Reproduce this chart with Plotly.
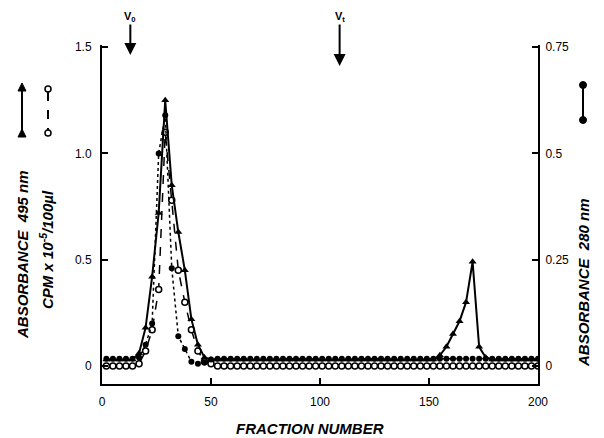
import plotly.graph_objects as go

# ---- data ----
fractions = list(range(2, 201, 3))  # fraction numbers, every 3rd fraction

a495 = [0.03, 0.03, 0.03, 0.03, 0.03, 0.06, 0.18, 0.42, 0.72, 1.25,
        0.85, 0.63, 0.45, 0.22, 0.10, 0.04, 0.03, 0.03, 0.03, 0.03,
        0.03, 0.03, 0.03, 0.03, 0.03, 0.03, 0.03, 0.03, 0.03, 0.03,
        0.03, 0.03, 0.03, 0.03, 0.03, 0.03, 0.03, 0.03, 0.03, 0.03,
        0.03, 0.03, 0.03, 0.03, 0.03, 0.03, 0.03, 0.03, 0.03, 0.03,
        0.03, 0.05, 0.09, 0.15, 0.21, 0.30, 0.49, 0.09, 0.04, 0.03,
        0.03, 0.03, 0.03, 0.03, 0.03, 0.03, 0.03]

cpm = [0.0, 0.0, 0.0, 0.0, 0.0, 0.01, 0.07, 0.17, 0.36, 1.10,
       0.78, 0.45, 0.30, 0.17, 0.07, 0.02, 0.01, 0.0, 0.0, 0.0,
       0.0, 0.0, 0.0, 0.0, 0.0, 0.0, 0.0, 0.0, 0.0, 0.0,
       0.0, 0.0, 0.0, 0.0, 0.0, 0.0, 0.0, 0.0, 0.0, 0.0,
       0.0, 0.0, 0.0, 0.0, 0.0, 0.0, 0.0, 0.0, 0.0, 0.0,
       0.0, 0.0, 0.0, 0.0, 0.0, 0.0, 0.0, 0.0, 0.0, 0.0,
       0.0, 0.0, 0.0, 0.0, 0.0, 0.0, 0.0]

a280 = [0.017, 0.017, 0.017, 0.017, 0.017, 0.02, 0.05, 0.10, 0.50, 0.59,
        0.23, 0.07, 0.04, 0.01, 0.005, 0.008, 0.015, 0.017, 0.017, 0.017,
        0.017, 0.017, 0.017, 0.017, 0.017, 0.017, 0.017, 0.017, 0.017, 0.017,
        0.017, 0.017, 0.017, 0.017, 0.017, 0.017, 0.017, 0.017, 0.017, 0.017,
        0.017, 0.017, 0.017, 0.017, 0.017, 0.017, 0.017, 0.017, 0.017, 0.017,
        0.017, 0.017, 0.017, 0.017, 0.017, 0.017, 0.017, 0.017, 0.017, 0.017,
        0.017, 0.017, 0.017, 0.017, 0.017, 0.017, 0.017]

x_ticks = [0, 50, 100, 150, 200]
left_ticks = [0, 0.5, 1.0, 1.5]
left_labels = ["0", "0.5", "1.0", "1.5"]
right_ticks = [0, 0.25, 0.5, 0.75]
right_labels = ["0", "0.25", "0.5", "0.75"]
marker_labels = ["V<sub>0</sub>", "V<sub>t</sub>"]
marker_fractions = [13, 109]

# ---- layout geometry (screen pixels; page body adds an 8px offset) ----
OFF = 8
SCR_L, SCR_R, SCR_T, SCR_B = 102, 538, 45, 384
W, H = 604 - OFF, 438 - OFF
L, T = SCR_L - OFF, SCR_T - OFF
R, B = W - (SCR_R - OFF), H - (SCR_B - OFF)
PW, PH = SCR_R - SCR_L, SCR_B - SCR_T


def px(xs):
    return (xs - SCR_L) / PW


def py(ys):
    return (SCR_B - ys) / PH


FONT = "Liberation Sans, Arial, sans-serif"

fig = go.Figure()
fig.add_trace(go.Scatter(x=fractions, y=cpm, mode="lines+markers", yaxis="y",
                         line=dict(color="black", width=1.5, dash="dash"),
                         marker=dict(symbol="circle", size=6, color="white",
                                     line=dict(color="black", width=1.5)),
                         name="CPM"))
fig.add_trace(go.Scatter(x=fractions, y=a495, mode="lines+markers", yaxis="y",
                         line=dict(color="black", width=2),
                         marker=dict(symbol="triangle-up", size=7, color="black"),
                         name="A495"))
fig.add_trace(go.Scatter(x=fractions, y=a280, mode="lines+markers", yaxis="y2",
                         line=dict(color="black", width=1.5, dash="dot"),
                         marker=dict(symbol="circle", size=6, color="black"),
                         name="A280"))

ax_common = dict(showgrid=False, zeroline=False, showline=True, linecolor="black",
                 linewidth=2, ticks="inside", ticklen=6, tickwidth=2, tickcolor="black",
                 tickfont=dict(family=FONT, size=12, color="black"))

fig.update_layout(
    width=W, height=H, margin=dict(l=L, r=R, t=T, b=B, autoexpand=False),
    paper_bgcolor="white", plot_bgcolor="white", showlegend=False,
    xaxis=dict(range=[0, 200], tickvals=x_ticks, ticklabelstandoff=6, **ax_common),
    yaxis=dict(range=[-0.085, 1.51], tickvals=left_ticks, ticktext=left_labels,
               ticklabelstandoff=6, **ax_common),
    yaxis2=dict(range=[-0.0425, 0.755], tickvals=right_ticks, ticktext=right_labels,
                overlaying="y", side="right", ticklabelstandoff=3, **ax_common),
)

ann = []
title_font = dict(family=FONT, size=15, color="black")


def label(text, xs, ys, angle=0):
    return dict(text=text, x=px(xs), y=py(ys), xref="paper", yref="paper",
                xanchor="center", yanchor="middle", showarrow=False,
                textangle=angle, font=title_font)


ann.append(label("<b><i>FRACTION NUMBER</i></b>", 310, 428))
ann.append(label("<b><i>ABSORBANCE  495 nm</i></b>", 22, 255, -90))
ann.append(label("<b><i>CPM x 10<sup>-5</sup>/100µl</i></b>", 46, 250, -90))
ann.append(label("<b><i>ABSORBANCE  280 nm</i></b>", 583, 283, -90))

tips = [55, 66]
for lab, xv, tip in zip(marker_labels, marker_fractions, tips):
    ann.append(dict(text="<b>" + lab + "</b>", x=xv, xref="x", y=py(tip), yref="paper",
                    showarrow=True, ax=0, ay=17 - tip, arrowhead=2, arrowsize=1.2,
                    arrowwidth=2, arrowcolor="black", borderpad=0,
                    font=dict(family=FONT, size=11, color="black")))
fig.update_layout(annotations=ann)

# ---- hand-drawn style legend keys next to the axis titles ----
shapes = []
# A495: solid line with triangles
shapes.append(dict(type="line", xref="paper", yref="paper", x0=px(22), x1=px(22),
                   y0=py(88), y1=py(134), line=dict(color="black", width=2)))
for yy in (88, 134):
    shapes.append(dict(type="path", xref="paper", yref="paper", xsizemode="pixel",
                       ysizemode="pixel", xanchor=px(22), yanchor=py(yy),
                       path="M -4,-3 L 4,-3 L 0,5 Z", fillcolor="black",
                       line=dict(color="black", width=1)))
# CPM: dashed line with open circles
shapes.append(dict(type="line", xref="paper", yref="paper", x0=px(48), x1=px(48),
                   y0=py(92), y1=py(130), line=dict(color="black", width=2, dash="dash")))
for yy in (89, 133):
    shapes.append(dict(type="circle", xref="paper", yref="paper", xsizemode="pixel",
                       ysizemode="pixel", xanchor=px(48), yanchor=py(yy),
                       x0=-3, x1=3, y0=-3, y1=3, fillcolor="white",
                       line=dict(color="black", width=1.5)))
# A280: line with filled circles
shapes.append(dict(type="line", xref="paper", yref="paper", x0=px(583), x1=px(583),
                   y0=py(85), y1=py(120), line=dict(color="black", width=2)))
for yy in (85, 120):
    shapes.append(dict(type="circle", xref="paper", yref="paper", xsizemode="pixel",
                       ysizemode="pixel", xanchor=px(583), yanchor=py(yy),
                       x0=-3.5, x1=3.5, y0=-3.5, y1=3.5, fillcolor="black",
                       line=dict(color="black", width=1)))
fig.update_layout(shapes=shapes)

fig.write_html("out.html")
